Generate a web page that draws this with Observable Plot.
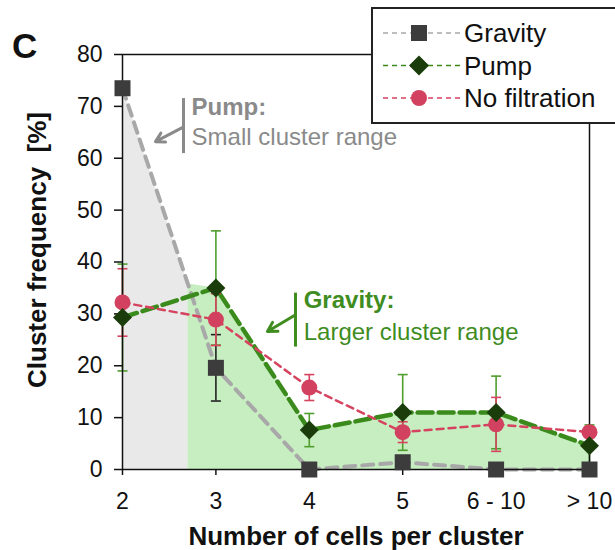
<!DOCTYPE html>
<html><head><meta charset="utf-8">
<script src="https://cdn.jsdelivr.net/npm/d3@7"></script>
<script src="https://cdn.jsdelivr.net/npm/@observablehq/plot@0.6"></script>
<style>
body{margin:0;background:#fff;}
#wrap{position:relative;width:615px;height:550px;overflow:hidden;font-family:"Liberation Sans",Arial,sans-serif;}
#wrap svg{position:absolute;left:0;top:0;}
</style></head><body><div id="wrap"></div>
<script>
// ---- data ----
const categories = ["2", "3", "4", "5", "6 - 10", "> 10"];
const gravity = [73.5, 19.6, 0, 1.4, 0, 0];
const gravityErr = [0, 6.4, 0, 0, 0, 0];
const pump = [29.3, 35, 7.6, 11, 11, 4.6];
const pumpErr = [10.3, 11, 3.2, 7.3, 7, 4];
const noFiltration = [32.2, 28.9, 15.8, 7.2, 8.7, 7.2];
const noFiltrationErr = [6.5, 5, 2.5, 2, 5.2, 1];
const yTicks = [0, 10, 20, 30, 40, 50, 60, 70, 80];
const seriesNames = ["Gravity", "Pump", "No filtration"];
const shadeSplit = 0.7; // category index where the two shaded ranges meet
const xTitle = "Number of cells per cluster";
const yTitle = "Cluster frequency  [%]";
const panelLetter = "C";
// annotations (data coordinates)
const annoHeads = [
  {x: 0.74, y: 69.8, text: "Pump:", c: "gray"},
  {x: 1.94, y: 32.6, text: "Gravity:", c: "green"}
];
const annoBodies = [
  {x: 0.74, y: 64.0, text: "Small cluster range", c: "gray"},
  {x: 1.94, y: 26.4, text: "Larger cluster range", c: "green"}
];
const annoBars = [
  {x: 0.653, y1: 60.9, y2: 71.5, c: "gray"},
  {x: 1.852, y1: 23.6, y2: 34.0, c: "green"}
];
const annoArrows = [
  {x1: 0.64, y1: 65.9, x2: 0.353, y2: 63.2, c: "gray"},
  {x1: 1.84, y1: 29.7, x2: 1.552, y2: 26.6, c: "green"}
];

// ---- styles ----
const col = {
  gravLine: "#a8a8a8", gravMark: "#3c3c3c",
  pumpLine: "#3a8b1c", pumpMark: "#1a3d0b", pumpErr: "#4f9e2e",
  pinkLine: "#d6435f", pinkMark: "#d2415f",
  grayFill: "#e9e9e9", greenFill: "#c7eec1",
  annoGray: "#8a8a8a", annoGreen: "#3f8c1f"
};

const rows = (vals, errs) => vals.map((v, i) => ({i, v, e: errs[i]}));
const G = rows(gravity, gravityErr), P = rows(pump, pumpErr), N = rows(noFiltration, noFiltrationErr);

// shaded ranges
const gravAtSplit = gravity[0] + (gravity[1] - gravity[0]) * shadeSplit;
const grayArea = [{i: 0, v: gravity[0]}, {i: shadeSplit, v: gravAtSplit}];
const greenArea = [{i: shadeSplit, v: gravAtSplit}, ...P.slice(1)];

// custom symbols
const squareSym = {draw(c) { c.rect(-8, -8, 16, 16); }};
const diamondSym = {draw(c) { c.moveTo(0, -9.5); c.lineTo(9.5, 0); c.lineTo(0, 9.5); c.lineTo(-9.5, 0); c.closePath(); }};
const capSym = {draw(c) { c.moveTo(-5, 0); c.lineTo(5, 0); }};

function errMarks(data, color) {
  const d = data.filter(r => r.e > 0);
  const caps = d.flatMap(r => [{i: r.i, y: r.v + r.e}, {i: r.i, y: r.v - r.e}]);
  return [
    Plot.ruleX(d, {x: "i", y1: r => r.v - r.e, y2: r => r.v + r.e, stroke: color, strokeWidth: 1.6}),
    Plot.dot(caps, {x: "i", y: "y", symbol: capSym, fill: "none", stroke: color, strokeWidth: 1.6})
  ];
}

const annoColor = c => c === "gray" ? col.annoGray : col.annoGreen;

const chart = Plot.plot({
  width: 615, height: 550,
  marginLeft: 122, marginRight: 26, marginTop: 54, marginBottom: 81,
  style: {fontFamily: "'Liberation Sans', Arial, sans-serif", fontSize: "23px", color: "#111", background: "transparent"},
  x: {domain: [0, 5]},
  y: {domain: [0, 80]},
  marks: [
    Plot.areaY(grayArea, {x: "i", y: "v", fill: col.grayFill}),
    Plot.areaY(greenArea, {x: "i", y: "v", fill: col.greenFill}),
    // annotations
    Plot.ruleX(annoBars, {x: "x", y1: "y1", y2: "y2", stroke: d => annoColor(d.c), strokeWidth: 3}),
    Plot.arrow(annoArrows, {x1: "x1", y1: "y1", x2: "x2", y2: "y2", stroke: d => annoColor(d.c), strokeWidth: 3, headLength: 10}),
    Plot.text(annoHeads, {x: "x", y: "y", text: "text", textAnchor: "start", fontSize: 24, fontWeight: "bold", fill: d => annoColor(d.c)}),
    Plot.text(annoBodies, {x: "x", y: "y", text: "text", textAnchor: "start", fontSize: 24, fill: d => annoColor(d.c)}),
    // lines
    Plot.line(G, {x: "i", y: "v", stroke: col.gravLine, strokeWidth: 4, strokeDasharray: "11,7"}),
    Plot.line(P, {x: "i", y: "v", stroke: col.pumpLine, strokeWidth: 4.5, strokeDasharray: "15,6"}),
    Plot.line(N, {x: "i", y: "v", stroke: col.pinkLine, strokeWidth: 2.5, strokeDasharray: "7,5"}),
    // error bars
    ...errMarks(G, "#222"),
    ...errMarks(P, col.pumpErr),
    ...errMarks(N, col.pinkLine),
    // frame & axes
    Plot.frame({stroke: "#111", strokeWidth: 1.5}),
    Plot.axisY({ticks: yTicks, tickSize: 8, tickPadding: 12, strokeWidth: 1.5, label: null, fontSize: 23}),
    Plot.axisX({ticks: [0, 1, 2, 3, 4, 5], tickFormat: i => categories[i], tickSize: 6, tickPadding: 17, strokeWidth: 1.5, label: null, fontSize: 23}),
    Plot.text([xTitle], {frameAnchor: "bottom", dy: 75, fontWeight: "bold", fontSize: 26, fill: "#111"}),
    // markers
    Plot.dot(G, {x: "i", y: "v", symbol: squareSym, fill: col.gravMark, stroke: "none"}),
    Plot.dot(N, {x: "i", y: "v", symbol: "circle", r: 8, fill: col.pinkMark, stroke: "none"}),
    Plot.dot(P, {x: "i", y: "v", symbol: diamondSym, fill: col.pumpMark, stroke: "none"})
  ]
});

const wrap = document.getElementById("wrap");
wrap.appendChild(chart);

// overlay: panel letter, y title, legend
const ov = d3.select(wrap).append("svg").attr("width", 615).attr("height", 550)
  .style("font-family", "'Liberation Sans', Arial, sans-serif");
ov.append("text").attr("x", 12).attr("y", 58).attr("font-size", 35).attr("font-weight", "bold").attr("fill", "#111").text(panelLetter);
ov.append("text").attr("transform", "translate(46,250) rotate(-90)").attr("text-anchor", "middle")
  .attr("font-size", 26).attr("font-weight", "bold").attr("fill", "#111").attr("xml:space", "preserve")
  .style("white-space", "pre").text(yTitle);

const lg = ov.append("g").attr("transform", "translate(372,8)");
lg.append("rect").attr("x", 0).attr("y", 0).attr("width", 260).attr("height", 115)
  .attr("fill", "#fff").attr("stroke", "#222").attr("stroke-width", 2);
const legendItems = [
  {name: seriesNames[0], line: col.gravLine, mark: col.gravMark, sym: "square"},
  {name: seriesNames[1], line: col.pumpLine, mark: col.pumpMark, sym: "diamond"},
  {name: seriesNames[2], line: col.pinkLine, mark: col.pinkMark, sym: "circle"}
];
legendItems.forEach((it, k) => {
  const cy = 25 + k * 32.5;
  const g = lg.append("g").attr("transform", `translate(0,${cy})`);
  g.append("line").attr("x1", 11).attr("x2", 88).attr("y1", 0).attr("y2", 0)
    .attr("stroke", it.line).attr("stroke-width", 1.6).attr("stroke-dasharray", "5,4");
  if (it.sym === "square") g.append("rect").attr("x", 39).attr("y", -8).attr("width", 16).attr("height", 16).attr("fill", it.mark);
  else if (it.sym === "diamond") g.append("path").attr("d", "M47,-10L57,0L47,10L37,0Z").attr("fill", it.mark);
  else g.append("circle").attr("cx", 47).attr("cy", 0).attr("r", 8).attr("fill", it.mark);
  g.append("text").attr("x", 92).attr("y", 9).attr("font-size", 26).attr("fill", "#111").text(it.name);
});
</script></body></html>
